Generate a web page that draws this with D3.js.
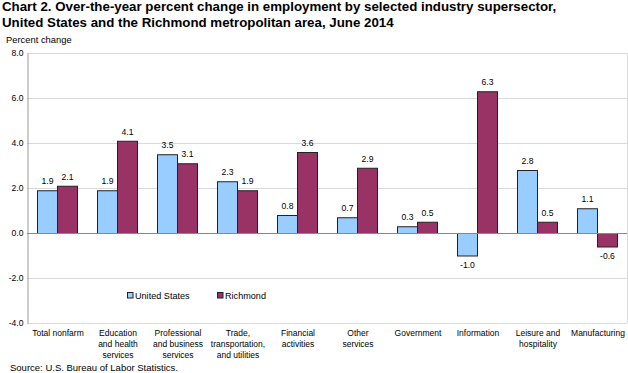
<!DOCTYPE html>
<html><head><meta charset="utf-8">
<script src="https://cdn.jsdelivr.net/npm/d3@7"></script>
<style>
body{margin:0;background:#fff;}
text{font-family:"Liberation Sans",Arial,sans-serif;fill:#000;}
</style></head>
<body>
<svg id="chart" width="628" height="373"></svg>
<script>
const categories = [
  ["Total nonfarm"],
  ["Education","and health","services"],
  ["Professional","and business","services"],
  ["Trade,","transportation,","and utilities"],
  ["Financial","activities"],
  ["Other","services"],
  ["Government"],
  ["Information"],
  ["Leisure and","hospitality"],
  ["Manufacturing"]
];
const usValues = [1.9, 1.9, 3.5, 2.3, 0.8, 0.7, 0.3, -1.0, 2.8, 1.1];
const richmondValues = [2.1, 4.1, 3.1, 1.9, 3.6, 2.9, 0.5, 6.3, 0.5, -0.6];
const seriesNames = ["United States", "Richmond"];
const seriesColors = ["#99ccff", "#993366"];
const yTicks = [-4, -2, 0, 2, 4, 6, 8];
const fmt = v => v.toFixed(1);

const svg = d3.select("#chart");
const L = 27, R = 627, T = 53, B = 323;

const x = d3.scaleBand().domain(d3.range(categories.length)).range([L, R]);
const x1 = d3.scaleBand().domain([0,1]).range([10, 50]);
const y = d3.scaleLinear().domain([-4, 8]).range([B, T]);

// Title
const title = svg.append("text").style("font-size", "13.3px").style("font-weight", "bold");
title.append("tspan").attr("x", 2).attr("y", 11).text("Chart 2. Over-the-year percent change in employment by selected industry supersector,");
title.append("tspan").attr("x", 2).attr("y", 27).text("United States and the Richmond metropolitan area, June 2014");

svg.append("text").attr("x", 6).attr("y", 43).style("font-size", "9.4px").text("Percent change");

// gridlines
svg.append("g").selectAll("line").data(yTicks.filter(d => d !== 0 && d !== -4)).join("line")
  .attr("x1", L).attr("x2", R).attr("y1", d => y(d)+0.5).attr("y2", d => y(d)+0.5)
  .attr("stroke", "#d9d9d9").attr("stroke-width", 1);

// right border
svg.append("line").attr("x1", R+0.5).attr("x2", R+0.5).attr("y1", T).attr("y2", B)
  .attr("stroke", "#d9d9d9");
// bottom line
svg.append("line").attr("x1", L).attr("x2", R).attr("y1", B+0.5).attr("y2", B+0.5)
  .attr("stroke", "#d9d9d9");

// y axis
const yAxis = d3.axisLeft(y).tickValues(yTicks).tickFormat(fmt).tickSize(0).tickPadding(4);
const yg = svg.append("g").attr("transform", `translate(${L+0.5},0)`).call(yAxis);
yg.select(".domain").attr("stroke", "#999");
yg.selectAll(".tick text").style("font-size", "8.6px").attr("fill", "#000")
  .style("font-family", "'Liberation Sans', Arial, sans-serif");

// bars
const groups = svg.append("g").selectAll("g").data(categories).join("g")
  .attr("transform", (d, i) => `translate(${x(i)},0)`);
groups.each(function(d, i) {
  const g = d3.select(this);
  const vals = [usValues[i], richmondValues[i]];
  g.selectAll("rect").data(vals).join("rect")
    .attr("x", (v, j) => x1(j) + 0.5)
    .attr("y", v => y(Math.max(0, v)) + 0.5)
    .attr("width", x1.bandwidth())
    .attr("height", v => Math.abs(y(v) - y(0)))
    .attr("fill", (v, j) => seriesColors[j])
    .attr("stroke", "#222").attr("stroke-width", 1);
  g.selectAll("text.val").data(vals).join("text").attr("class", "val")
    .attr("x", (v, j) => x1(j) + x1.bandwidth()/2 + 0.5)
    .attr("y", v => v >= 0 ? y(v) - 6 : y(v) + 12.5)
    .attr("text-anchor", "middle").style("font-size", "8.6px")
    .text(fmt);
});

// zero line
svg.append("line").attr("x1", L).attr("x2", R).attr("y1", y(0)+0.5).attr("y2", y(0)+0.5)
  .attr("stroke", "#888");

// category labels
groups.each(function(d, i) {
  const t = d3.select(this).append("text").attr("text-anchor", "middle").style("font-size", "8.5px");
  d.forEach((line, k) => t.append("tspan").attr("x", x.bandwidth()/2 + 1).attr("y", 336 + k*11).text(line));
});

// legend
const legX = [127, 217];
const leg = svg.append("g").selectAll("g").data(seriesNames).join("g")
  .attr("transform", (d, i) => `translate(${legX[i]},292)`);
leg.append("rect").attr("x", 0.5).attr("y", 0.5).attr("width", 5.5).attr("height", 5.5)
  .attr("fill", (d, i) => seriesColors[i]).attr("stroke", "#222");
leg.append("text").attr("x", 8).attr("y", 6.5).style("font-size", "9.1px").text(d => d);

svg.append("text").attr("x", 10).attr("y", 371).style("font-size", "9.5px").text("Source: U.S. Bureau of Labor Statistics.");
</script>
</body></html>
